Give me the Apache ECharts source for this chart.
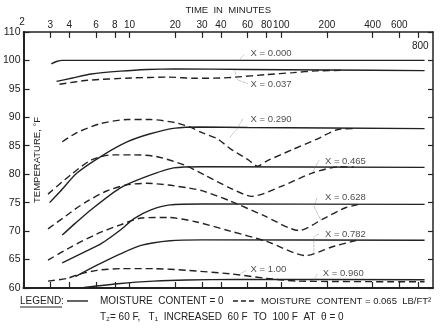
<!DOCTYPE html>
<html>
<head>
<meta charset="utf-8">
<script src="https://cdn.jsdelivr.net/npm/echarts@6/dist/echarts.min.js"></script>
<style>
  html, body { margin: 0; padding: 0; background: #fff; }
  #main { width: 446px; height: 328px; }
</style>
</head>
<body>
<div id="main"></div>
<script>
// time ticks (minutes, log axis) and temperature ticks
var timeTicks = [2, 3, 4, 6, 8, 10, 20, 30, 40, 60, 80, 100, 200, 400, 600, 800];
var timeLabels = [3, 4, 6, 8, 10, 20, 30, 40, 60, 80, 100, 200, 400, 600];
var tempTicks = [60, 65, 70, 75, 80, 85, 90, 95, 100, 105];
var tempLabels = ['60', '65', '70', '75', '80', '85', '90', '95', '100', '110'];

// [minutes, temperature F]  solid = moisture content 0, dashed = 0.065 lb/ft2
var x000Solid = [[3.05, 99.4], [3.3, 99.8], [3.6, 100], [880, 100]];
var x037Solid = [[3.3, 96.3], [4.2, 96.9], [5.6, 97.6], [8.7, 98.1], [13, 98.4], [20, 98.5], [60, 98.4], [200, 98.3], [880, 98.2]];
var x037Dash = [[3.45, 95.8], [5.3, 96.5], [10.2, 96.9], [18, 97.05], [27, 96.85], [40, 96.9], [50, 97.05], [80, 97.5], [120, 97.85], [170, 98.15], [260, 98.25]];
var x290Solid = [[2.97, 75.0], [3.5, 77.0], [4.5, 80.2], [6.46, 83.1], [9.7, 85.7], [13.7, 87.1], [20, 88.1], [29, 88.3], [60, 88.2], [880, 88.0]];
var x290Dash = [[3.6, 85.7], [4.5, 87.3], [6.46, 88.9], [9.7, 89.6], [13.7, 89.6], [20, 89.05], [25, 88.3], [30, 87.3], [38, 86.2], [46, 84.5], [60, 82.6], [70, 81.4], [80, 82.3], [118, 84.3], [170, 86.1], [240, 87.9], [300, 88.0]];
var x465Solid = [[3.6, 69.3], [4.4, 71.4], [5.6, 73.8], [8.7, 77.6], [13, 79.6], [19.5, 81.1], [30, 81.3], [880, 81.2]];
var x465Dash = [[2.9, 76.5], [4.1, 79.9], [5.6, 82.5], [7.7, 83.4], [10.6, 83.4], [15, 83.1], [23, 81.6], [31, 79.9], [45.7, 77.6], [64, 76.1], [101, 77.9], [160, 80.2], [240, 81.3], [300, 81.25]];
var x628Solid = [[3.6, 64.4], [5.3, 66.6], [6.5, 67.8], [8.7, 70.2], [10.7, 72.2], [13.7, 73.7], [18.5, 74.6], [30, 74.75], [880, 74.7]];
var x628Dash = [[2.9, 70.4], [3.6, 72.2], [4.4, 73.9], [5.3, 75.3], [7, 77.0], [9.5, 78.1], [13, 78.4], [18, 78.1], [24, 77.6], [30, 77.1], [46, 75.3], [77, 72.7], [131, 70.1], [190, 72.2], [265, 74.1], [320, 74.65]];
var x782Solid = [[4.4, 62.0], [6.1, 64.0], [8.7, 66.0], [11.9, 67.5], [18.5, 68.3], [30, 68.45], [880, 68.4]];
var x782Dash = [[2.9, 64.9], [4.1, 67.2], [6.1, 69.5], [8.7, 71.1], [12, 72.3], [17.7, 72.4], [27.7, 71.6], [46, 70.0], [80, 68.2], [145, 65.7], [215, 67.2], [310, 68.35]];
var x960Solid = [[5.0, 60.1], [8.7, 60.8], [14.4, 61.2], [23.8, 61.4], [50, 61.5], [880, 61.45]];
var bottomDash = [[2.9, 61.2], [3.9, 61.7], [4.5, 62.3], [6.1, 63.1], [8.7, 63.4], [14.4, 63.4], [23.8, 63.1], [45.7, 62.5], [80, 61.7], [131, 61.2], [880, 61.1]];

// curve labels: [text, minutes, temperature] and their leader lines
var curveLabels = [
  ['X = 0.000', 61.8, 101.2], ['X = 0.037', 61.8, 95.7], ['X = 0.290', 61.8, 89.6],
  ['X = 0.465', 191, 82.3], ['X = 0.628', 191, 75.85], ['X = 0.782', 191, 69.5],
  ['X = 1.00', 61.8, 63.25], ['X = 0.960', 185, 62.55]
];
var leaders = [
  [[57, 101.0], [54, 100.4], [53.5, 100]],
  [[60, 95.9], [51.5, 96.6], [49.3, 98.2]],
  [[55.6, 89.7], [51.5, 88.1], [45.7, 86.4]],
  [[177, 82.4], [159, 80.1]],
  [[172, 75.8], [164, 74.4], [183, 71.8]],
  [[177, 69.5], [164, 69.0], [164, 66.1]],
  [[58.8, 63.1], [53.1, 62.4]],
  [[172, 62.4], [164, 61.4]]
];

var FONT = "'Liberation Sans', Arial, sans-serif";
var INK = '#222';

function lg(arr) {
  return arr.map(function (p) { return [Math.log10(p[0]), p[1]]; });
}

var curves = [
  [x000Solid, 'solid'], [x037Solid, 'solid'], [x037Dash, 'dash'],
  [x290Solid, 'solid'], [x290Dash, 'dash'], [x465Solid, 'solid'], [x465Dash, 'dash'],
  [x628Solid, 'solid'], [x628Dash, 'dash'], [x782Solid, 'solid'], [x782Dash, 'dash'],
  [x960Solid, 'solid'], [bottomDash, 'dash']
];

var series = curves.map(function (c) {
  return {
    type: 'line',
    xAxisIndex: 0,
    yAxisIndex: 0,
    data: lg(c[0]),
    showSymbol: false,
    smooth: 0.25,
    silent: true,
    lineStyle: { color: INK, width: 1.4, type: c[1] === 'dash' ? [7, 4] : 'solid' }
  };
});

leaders.forEach(function (l) {
  series.push({
    type: 'line', data: lg(l), showSymbol: false, silent: true,
    lineStyle: { color: '#777', width: 0.7, type: 'dotted' }
  });
});

series.push({
  type: 'scatter',
  symbolSize: 0,
  silent: true,
  data: curveLabels.map(function (c) {
    return { name: c[0], value: [Math.log10(c[1]), c[2]] };
  }),
  label: {
    show: true, position: 'right', distance: 1, formatter: '{b}',
    color: INK, fontSize: 9.5, fontFamily: FONT
  }
});

var logTicks = timeTicks.map(Math.log10);
var logLabels = timeLabels.map(Math.log10);

function timeAxis(pos) {
  var top = pos === 'top';
  return {
    type: 'value',
    position: pos,
    min: Math.log10(2),
    max: 3,
    name: top ? 'TIME  IN  MINUTES' : '',
    nameLocation: 'middle',
    nameGap: 15,
    nameTextStyle: { color: INK, fontSize: 9.5, fontFamily: FONT },
    axisLine: { show: true, lineStyle: { color: INK, width: top ? 1.5 : 2 } },
    axisTick: { show: true, inside: true, length: 6, customValues: logTicks, lineStyle: { color: INK, width: 1.2 } },
    axisLabel: {
      show: top, customValues: logLabels, margin: 2, hideOverlap: false,
      color: INK, fontSize: 10, fontFamily: FONT,
      formatter: function (v) { return String(Math.round(Math.pow(10, v))); }
    },
    splitLine: { show: false }
  };
}

function tempAxis(pos) {
  var left = pos === 'left';
  return {
    type: 'value',
    position: pos,
    min: 60,
    max: 105,
    interval: 5,
    name: left ? 'TEMPERATURE, °F' : '',
    nameLocation: 'middle',
    nameGap: -19,
    nameRotate: 90,
    nameTextStyle: { color: INK, fontSize: 9.5, fontFamily: FONT },
    axisLine: { show: true, lineStyle: { color: INK, width: left ? 2 : 1.5 } },
    axisTick: { show: true, inside: true, length: left ? 6 : 5, lineStyle: { color: INK, width: 1.2 } },
    axisLabel: {
      show: left, margin: 3, color: INK, fontSize: 10.5, fontFamily: FONT,
      formatter: function (v) { return tempLabels[tempTicks.indexOf(v)]; }
    },
    splitLine: { show: false }
  };
}

function txt(x, y, s, size) {
  return {
    type: 'text', x: x, y: y, silent: true,
    style: { text: s, fill: INK, font: (size || 10) + 'px ' + FONT, verticalAlign: 'middle', align: 'left' }
  };
}

var chart = echarts.init(document.getElementById('main'));
chart.setOption({
  animation: false,
  backgroundColor: '#fff',
  grid: { left: 22, right: 13, top: 29, bottom: 40 },
  xAxis: [timeAxis('top'), timeAxis('bottom')],
  yAxis: [tempAxis('left'), tempAxis('right')],
  series: series,
  graphic: [
    // first time label on its own top layer at the left corner
    { type: 'text', x: 22, y: 22, zlevel: 5, z: 100, silent: true,
      style: { text: String(timeTicks[0]), fill: INK, font: '10px ' + FONT, align: 'center', verticalAlign: 'middle' } },
    txt(412, 46, '800', 10),
    txt(20, 301, 'LEGEND:', 10),
    { type: 'line', silent: true, shape: { x1: 20, y1: 307, x2: 62, y2: 307 }, style: { stroke: INK, lineWidth: 1 } },
    { type: 'line', silent: true, shape: { x1: 67, y1: 301, x2: 88, y2: 301 }, style: { stroke: INK, lineWidth: 1.4 } },
    txt(100, 301, 'MOISTURE  CONTENT = 0', 10),
    { type: 'line', silent: true, shape: { x1: 233, y1: 301, x2: 256, y2: 301 }, style: { stroke: INK, lineWidth: 1.4, lineDash: [5, 3] } },
    txt(261, 301, 'MOISTURE  CONTENT = 0.065  LB/FT²', 9.5),
    txt(100, 317, 'T₂= 60 F,   T₁  INCREASED  60 F  TO  100 F  AT  θ = 0', 10)
  ]
});
</script>
</body>
</html>
